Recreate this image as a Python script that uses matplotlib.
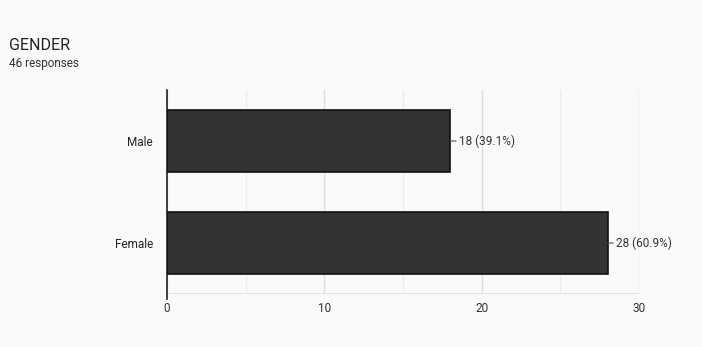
import matplotlib.pyplot as plt

plt.rcParams['font.family'] = ['Roboto', 'DejaVu Sans']

categories = ['Male', 'Female']
counts = [18, 28]
total = 46
xticks = [0, 10, 20, 30]

bg = '#fafafa'
fig = plt.figure(figsize=(7.02, 3.47), dpi=100, facecolor=bg)
ax = fig.add_axes([167/702, 1 - 294/347, (639 - 167)/702, (294 - 90)/347])
ax.set_facecolor(bg)

ypos = list(range(len(categories)))
ax.barh(ypos, counts, height=0.61, color='#333333', edgecolor='#111111', linewidth=1.2, zorder=3)

# value labels with short leader line
for y, c in zip(ypos, counts):
    ax.annotate('{} ({:.1f}%)'.format(c, 100 * c / total), xy=(c, y), xytext=(c + 0.55, y),
                va='center', ha='left', fontsize=8.5, color='#333333',
                arrowprops=dict(arrowstyle='-', color='#555555', lw=0.8, shrinkA=0, shrinkB=0))

ax.set_xlim(0, 30)
ax.set_ylim(1.5, -0.5)
ax.set_yticks(ypos)
ax.set_yticklabels(categories, fontsize=8.5, color='#222222')
ax.set_xticks(xticks)
ax.set_xticklabels([str(t) for t in xticks], fontsize=8.5, color='#333333')
ax.set_xticks([5, 15, 25], minor=True)
ax.grid(axis='x', which='major', color='#dddddd', lw=1, zorder=0)
ax.grid(axis='x', which='minor', color='#ececec', lw=1, zorder=0)
ax.tick_params(axis='y', length=0, pad=10)
ax.tick_params(axis='x', length=0, pad=6)
ax.tick_params(axis='x', which='minor', length=0)
for s in ['top', 'right', 'bottom']:
    ax.spines[s].set_visible(False)
ax.spines['left'].set_color('#222222')
ax.spines['left'].set_linewidth(1.2)
ax.spines['left'].set_bounds(1.55, -0.5)
ax.axhline(1.5, color='#dddddd', lw=1.2, zorder=1)
ax.axvline(30, color='#dddddd', lw=1, zorder=1)

fig.text(9/702, 1 - 45/347, 'GENDER', fontsize=11.5, color='#222222', va='center')
fig.text(9/702, 1 - 64/347, '46 responses', fontsize=8.5, color='#333333', va='center')

fig.savefig('out.png', dpi=100, facecolor=bg)
